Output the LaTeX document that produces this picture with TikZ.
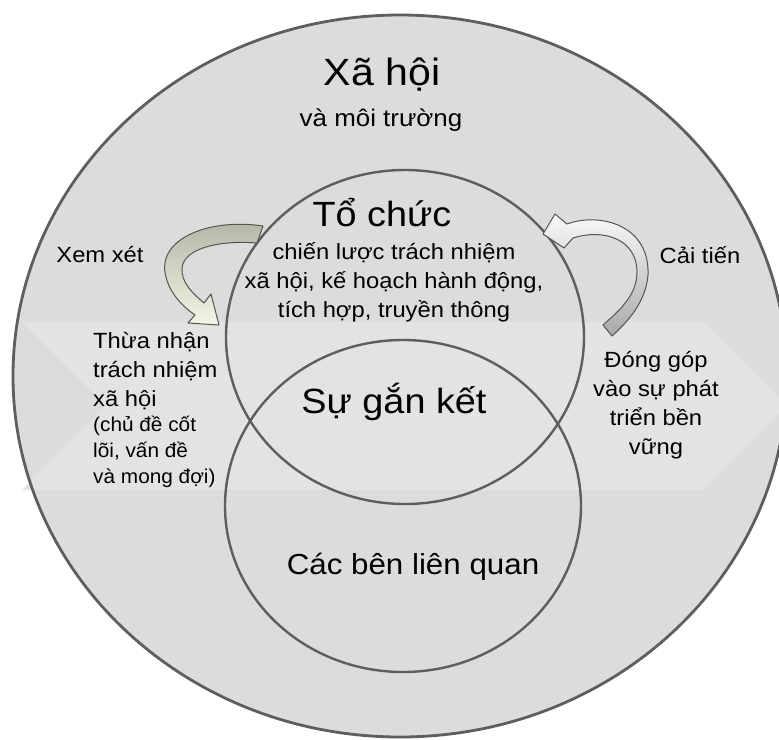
\documentclass[tikz,border=0pt]{standalone}
\usepackage{fontspec}
\setmainfont{Liberation Sans}
\usepackage{tikz}
\usetikzlibrary{positioning}

\definecolor{ringgray}{HTML}{5E5E5E}
\definecolor{fieldgray}{HTML}{DCDCDC}
\definecolor{bandgray}{HTML}{E3E3E3}
\definecolor{olivegray}{HTML}{B4B4A6}
\definecolor{cream}{HTML}{F5F5E6}
\definecolor{midgray}{HTML}{A9A9A9}

\tikzset{
  ring/.style={draw=ringgray, line width=2.4pt},
  bigtext/.style={font=\fontsize{35}{40}\selectfont, xscale=1.08, inner sep=0pt},
  midtext/.style={font=\fontsize{22}{29}\selectfont, xscale=1.08, inner sep=0pt},
  smalltext/.style={font=\fontsize{20}{26}\selectfont, xscale=1.04, inner sep=0pt},
  bentarrow/.style={draw=ringgray!90!black, line width=1pt, line join=round}
}

\begin{document}
\begin{tikzpicture}[x=1pt, y=-1pt]
\useasboundingbox (0,0) rectangle (779,739);

% Outer field
\fill[fieldgray] (400,376) ellipse [x radius=387, y radius=361];

% Background band (chevron)
\fill[bandgray] (22,322) -- (703,322) -- (787,406) -- (703,490) -- (22,490) -- (106,406) -- cycle;

\draw[ring, line width=2.8pt] (400,376) ellipse [x radius=387, y radius=361];

% Two overlapping circles
\draw[ring] (405,337) ellipse [x radius=179, y radius=167];
\draw[ring] (403,506) ellipse [x radius=178, y radius=166];

% Left curved arrow (review)
\draw[bentarrow, top color=olivegray, bottom color=cream]
  (263,226) .. controls (210,218) and (160,238) .. (165,272)
  .. controls (168,292) and (182,306) .. (195,315)
  -- (188,323) -- (219,325) -- (211,294) -- (204,303)
  .. controls (192,293) and (181,282) .. (182,268)
  .. controls (184,248) and (220,240) .. (257,243) -- cycle;

% Right curved arrow (improvement)
\draw[bentarrow, top color=white!96!gray, bottom color=midgray]
  (567,224) .. controls (600,212) and (650,225) .. (648,275)
  .. controls (646,300) and (630,320) .. (612,336)
  -- (603,325)
  .. controls (620,310) and (637,295) .. (637,272)
  .. controls (637,240) and (605,228) .. (573,238)
  -- (564,248) -- (543,234) -- (555,214) -- cycle;

% Labels
\node[bigtext, font=\fontsize{38}{42}\selectfont] (society) at (382,75) {Xã hội};
\node[font=\fontsize{24}{28}\selectfont, xscale=1.08, inner sep=0pt] (environment) at (381,120) {và môi trường};
\node[bigtext] (organisation) at (382,213) {Tổ chức};
\node[midtext, align=center] (orgtasks) at (394,282) {chiến lược trách nhiệm\\xã hội, kế hoạch hành động,\\tích hợp, truyền thông};
\node[midtext] (review) at (100,255) {Xem xét};
\node[midtext] (improve) at (700,255) {Cải tiến};
\node[midtext, align=left, anchor=north west] (recognise) at (93,332) {Thừa nhận\\trách nhiệm\\xã hội};
\node[smalltext, align=left, anchor=north west] (recognisesub) at ([yshift=-6pt]recognise.south west) {(chủ đề cốt\\lõi, vấn đề\\và mong đợi)};
\node[midtext, align=center] (contribute) at (656,405) {Đóng góp\\vào sự phát\\triển bền\\vững};
\node[bigtext] (engagement) at (394,402) {Sự gắn kết};
\node[font=\fontsize{29}{34}\selectfont, xscale=1.08, inner sep=0pt] (stakeholders) at (413,567) {Các bên liên quan};

\end{tikzpicture}
\end{document}
